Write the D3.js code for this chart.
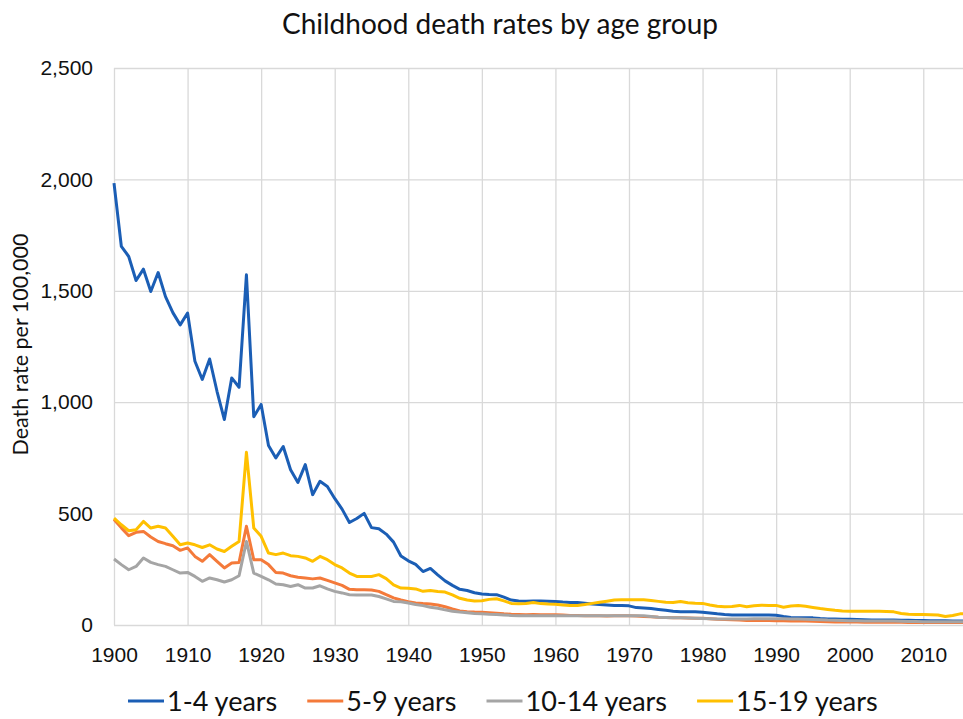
<!DOCTYPE html>
<html>
<head>
<meta charset="utf-8">
<script src="https://cdn.jsdelivr.net/npm/d3@7"></script>
<style>
  body { margin: 0; background: #fff; }
  svg { display: block; font-family: Lato, "Open Sans", sans-serif; }
  .grid line { stroke: #d9d9d9; stroke-width: 1.3; }
  .grid .domain { display: none; }
  .grid text { fill: #111; font-size: 21px; }
</style>
</head>
<body>
<div id="chart"></div>
<script>
// years 1900 .. 2016, one value per year for each age group
var years = d3.range(1900, 2017);

var ages1to4 = [
  1983, 1699, 1654, 1546, 1597, 1497, 1582, 1474, 1402, 1347,
  1400, 1184, 1102, 1194, 1049, 922, 1109, 1067, 1572, 935,
  990, 806, 750, 801, 697, 640, 720, 585, 645, 622,
  568, 520, 460, 478, 501, 437, 432, 408, 372, 310,
  288, 272, 240, 254, 225, 198, 178, 160, 155, 145,
  139, 137, 136, 125, 112, 108, 107, 108, 108, 107,
  106, 103, 101, 101, 98, 94, 92, 90, 88, 87,
  86, 78, 76, 74, 70, 66, 62, 60, 60, 59,
  57, 54, 50, 47, 45, 45, 45, 45, 45, 45,
  44, 38, 34, 33, 33, 32, 29, 27, 27, 26,
  26, 25, 24, 23, 22, 22, 22, 21, 21, 20,
  20, 19, 19, 19, 18, 18, 18
];

var ages5to9 = [
  473, 436, 401, 416, 420, 395, 375, 365, 356, 335,
  346, 308, 286, 316, 286, 256, 278, 281, 443, 293,
  293, 271, 236, 233, 221, 214, 211, 207, 211, 200,
  189, 178, 160, 158, 158, 157, 151, 136, 122, 112,
  105, 99, 96, 94, 90, 82, 72, 63, 60, 58,
  57, 55, 53, 50, 48, 47, 46, 47, 46, 46,
  46, 45, 43, 43, 42, 41, 41, 40, 41, 41,
  41, 40, 38, 37, 35, 34, 32, 32, 31, 30,
  30, 28, 26, 25, 24, 22, 20, 21, 20, 20,
  19, 19, 18, 18, 18, 17, 16, 15, 14, 14,
  13, 13, 12, 12, 12, 12, 12, 12, 11, 11,
  11, 11, 11, 11, 11, 11, 11
];

var ages10to14 = [
  296, 271, 248, 263, 301, 281, 271, 263, 248, 233,
  236, 218, 196, 211, 203, 193, 203, 221, 375, 233,
  218, 203, 184, 181, 173, 181, 166, 166, 176, 162,
  151, 144, 136, 135, 135, 135, 128, 117, 106, 104,
  99, 92, 87, 80, 75, 68, 62, 58, 55, 52,
  50, 48, 47, 45, 43, 42, 42, 42, 41, 41,
  41, 41, 41, 41, 41, 41, 41, 41, 41, 41,
  41, 41, 41, 38, 35, 34, 33, 32, 31, 30,
  29, 28, 27, 27, 27, 27, 27, 28, 28, 28,
  28, 28, 27, 27, 26, 25, 24, 22, 21, 20,
  19, 19, 18, 18, 18, 18, 18, 17, 16, 16,
  15, 15, 15, 15, 15, 15, 15
];

var ages15to19 = [
  480, 450, 423, 428, 465, 435, 443, 435, 398, 360,
  368, 360, 348, 360, 341, 330, 353, 375, 775, 435,
  398, 323, 316, 323, 311, 308, 301, 286, 308, 293,
  271, 256, 233, 218, 218, 218, 226, 208, 180, 166,
  165, 162, 151, 155, 150, 148, 135, 120, 112, 108,
  109, 115, 118, 108, 97, 95, 97, 101, 96, 94,
  93, 90, 87, 88, 92, 97, 102, 107, 112, 113,
  113, 113, 113, 110, 106, 102, 101, 105, 100, 98,
  97, 90, 84, 82, 83, 88, 82, 86, 89, 88,
  88, 80, 85, 87, 84, 79, 74, 70, 66, 63,
  62, 62, 62, 62, 62, 61, 59, 52, 48, 47,
  47, 46, 45, 38, 43, 50, 51
];

var seriesNames = ["1-4 years", "5-9 years", "10-14 years", "15-19 years"];
var seriesValues = [ages1to4, ages5to9, ages10to14, ages15to19];
var colors = ["#1b5eb5", "#f47a3a", "#a5a5a5", "#ffc000"];

var yTicks = [0, 500, 1000, 1500, 2000, 2500];
var xTicks = [1900, 1910, 1920, 1930, 1940, 1950, 1960, 1970, 1980, 1990, 2000, 2010];

var margin = { top: 68, right: 0, bottom: 94, left: 114 },
    totalWidth = 963,
    totalHeight = 719,
    width = totalWidth - margin.left - margin.right,
    height = totalHeight - margin.top - margin.bottom;

var svg = d3.select("#chart").append("svg")
    .attr("width", totalWidth)
    .attr("height", totalHeight);

var g = svg.append("g")
    .attr("transform", "translate(" + margin.left + "," + margin.top + ")");

var x = d3.scaleLinear()
    .domain([1900, 2015.4])
    .range([0, width]);

var y = d3.scaleLinear()
    .domain([0, 2500])
    .range([height, 0]);

// horizontal gridlines + y labels
g.append("g")
    .attr("class", "grid")
    .call(d3.axisLeft(y)
        .tickValues(yTicks)
        .tickSize(-width)
        .tickPadding(21)
        .tickFormat(d3.format(",")));

// vertical gridlines + year labels
g.append("g")
    .attr("class", "grid")
    .attr("transform", "translate(0," + height + ")")
    .call(d3.axisBottom(x)
        .tickValues(xTicks)
        .tickSize(-height)
        .tickPadding(22)
        .tickFormat(d3.format("d")));

var line = d3.line()
    .x(function(d) { return x(d.year); })
    .y(function(d) { return y(d.value); });

var series = seriesNames.map(function(name, i) {
  return {
    name: name,
    color: colors[i],
    points: years.map(function(yr, j) { return { year: yr, value: seriesValues[i][j] }; })
  };
});

g.selectAll(".series")
    .data(series)
    .enter().append("path")
    .attr("class", "series")
    .attr("fill", "none")
    .attr("stroke", function(d) { return d.color; })
    .attr("stroke-width", 3)
    .attr("stroke-linejoin", "round")
    .attr("d", function(d) { return line(d.points); });

// title
svg.append("text")
    .attr("x", 500)
    .attr("y", 34)
    .attr("text-anchor", "middle")
    .style("font-size", "28px")
    .style("fill", "#111")
    .text("Childhood death rates by age group");

// y axis title
svg.append("text")
    .attr("transform", "translate(28," + (margin.top + height / 2 - 2) + ") rotate(-90)")
    .attr("text-anchor", "middle")
    .style("font-size", "21.5px")
    .style("fill", "#111")
    .text("Death rate per 100,000");

// legend
var legend = svg.append("g").attr("class", "legend");
var lx = 128, legendY = 701;
series.forEach(function(s) {
  legend.append("line")
      .attr("x1", lx).attr("x2", lx + 36)
      .attr("y1", legendY).attr("y2", legendY)
      .attr("stroke", s.color)
      .attr("stroke-width", 3);
  var t = legend.append("text")
      .attr("x", lx + 39)
      .attr("y", legendY + 10)
      .style("font-size", "27px")
      .style("fill", "#111")
      .text(s.name);
  lx += 39 + t.node().getComputedTextLength() + 30;
});
</script>
</body>
</html>
